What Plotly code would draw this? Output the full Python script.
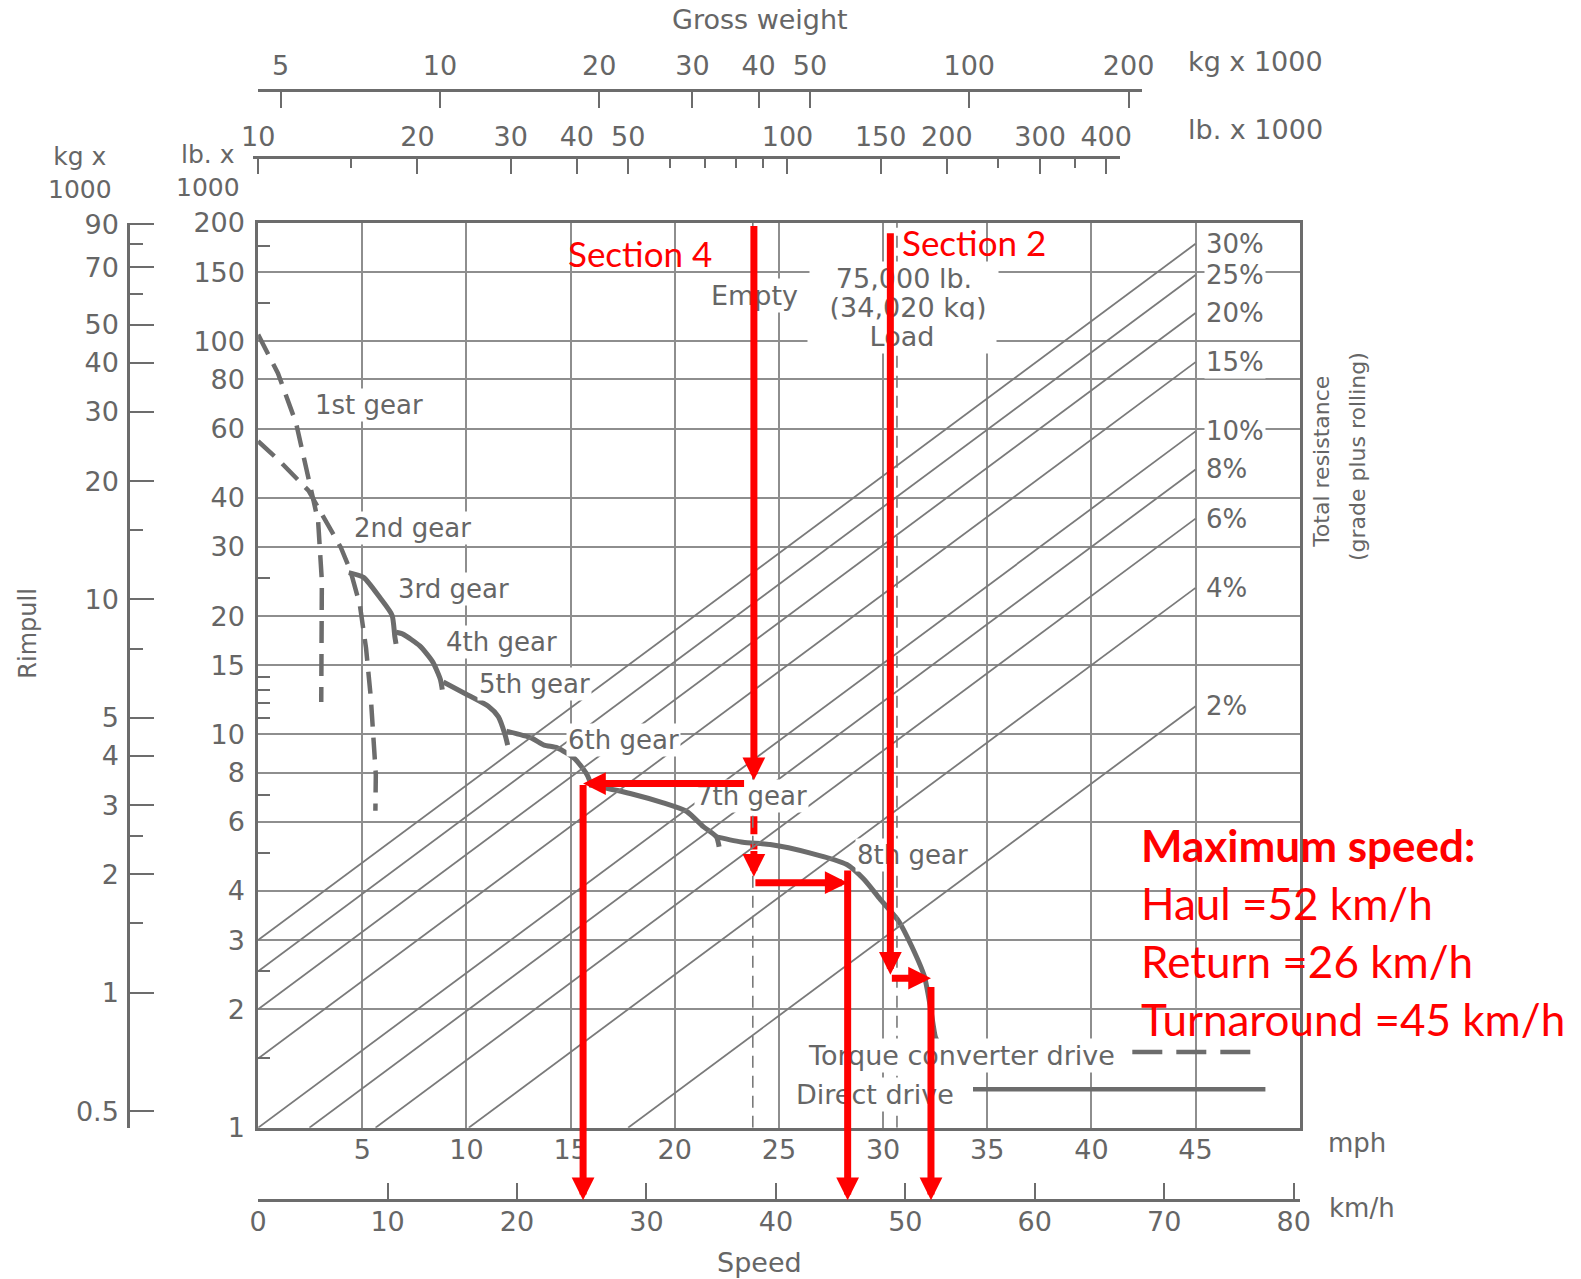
import numpy as np
import plotly.graph_objects as go

# ---------------- data ----------------
# rimpull in lb x 1000, speed in mph
gear1_mph = [0.0, 0.95, 1.82, 2.44, 2.88, 3.06, 3.04, 3.03]
gear1_rimpull = [104, 83, 62, 44, 34.9, 24.6, 16.6, 12.1]
gear2_mph = [0.0, 1.0, 2.42, 3.13, 3.97, 4.43, 4.88, 5.18, 5.41, 5.65, 5.63]
gear2_rimpull = [55.7, 49.8, 41.7, 35.7, 29.9, 26.1, 21.4, 16.6, 12.4, 7.9, 6.4]
gear3_mph = [4.35, 5.06, 5.87, 6.43, 6.56, 6.62]
gear3_rimpull = [25.8, 25.1, 22.2, 20.1, 17.8, 17.0]
gear4_mph = [6.62, 6.95, 7.76, 8.38, 8.75, 8.84]
gear4_rimpull = [18.2, 18.0, 16.8, 15.3, 13.8, 13.0]
gear5_mph = [8.89, 9.95, 11.05, 11.53, 11.85, 11.98]
gear5_rimpull = [13.6, 12.7, 11.8, 11.1, 10.0, 9.4]
gear6_mph = [11.92, 13.11, 13.73, 14.36, 15.18, 15.79, 16.02]
gear6_rimpull = [10.2, 9.8, 9.4, 9.25, 8.7, 7.9, 7.36]
gear7_mph = [15.94, 17.86, 19.45, 20.56, 21.37, 22.0, 22.13]
gear7_rimpull = [7.45, 7.08, 6.70, 6.38, 5.83, 5.49, 5.18]
gear8_mph = [22.0, 23.27, 24.58, 26.47, 28.26, 29.07, 29.83, 30.77, 31.38, 31.98, 32.29, 32.5, 32.58]
gear8_rimpull = [5.49, 5.32, 5.25, 5.0, 4.67, 4.29, 3.83, 3.34, 2.89, 2.43, 2.0, 1.71, 1.67]

grade_pct = [30, 25, 20, 15, 10, 8, 6, 4, 2]
grade_text = ["30%", "25%", "20%", "15%", "10%", "8%", "6%", "4%", "2%"]
weight_min = 10              # lb x 1000, left edge of gross-weight scale
grade_line_end_weight = 590  # lb x 1000, where the grade lines stop
empty_weight = 86            # lb x 1000
load_weight = 161            # empty + 75,000 lb load

lb_weight_major = [10, 20, 30, 40, 50, 100, 150, 200, 300, 400]
lb_weight_minor = [15, 60, 70, 80, 90, 250, 350]
kg_weight_major = [5, 10, 20, 30, 40, 50, 100, 200]
rim_lb_major = [1, 2, 3, 4, 6, 8, 10, 15, 20, 30, 40, 60, 80, 100, 150, 200]
rim_lb_minor = [1.5, 2.5, 5, 7, 11, 12, 13, 14, 25, 125, 175]
rim_kg_major = [0.5, 1, 2, 3, 4, 5, 10, 20, 30, 40, 50, 70, 90]
rim_kg_minor = [1.5, 2.5, 7.5, 15, 60, 80]
mph_ticks = [5, 10, 15, 20, 25, 30, 35, 40, 45]
kmh_ticks = [0, 10, 20, 30, 40, 50, 60, 70, 80]

# red analysis overlay (mph / lb x 1000)
section4_mph = 23.8
return_rimpull = 7.5
return_speed_mph = 15.6
turn_rimpull = 4.2
turn_speed_mph = 28.3
section2_mph = 30.35
haul_rimpull = 2.4
haul_speed_mph = 32.3

# ---------------- layout frame (reference pixel frame 1568x1268) ----------------
RW, RH = 1568.0, 1268.0
def fx(p): return p / RW
def fy(p): return 1 - p / RH

PX_L, PX_R, PY_T, PY_B = 256, 1289, 221, 1118
PY_KMH = 1190
LB_DEC = 525.0  # px per decade on the weight scales
MPH_MAX = 50
RIM_MAX = 200
ppd = (PY_B - PY_T) / np.log10(RIM_MAX)
kmh_head = -(PY_KMH - PY_B) / ppd  # log units below the plot

GRAY = '#6c6c6c'
GRID = '#8e8e8e'
TXT = '#666666'
FONT = 'DejaVu Sans'
RED = '#ff0000'

fig = go.Figure()

# grade lines (rimpull = weight * grade) on the gross weight overlay axis
for g in grade_pct:
    w = np.array([max(weight_min, 100.0 / g), grade_line_end_weight])
    fig.add_trace(go.Scatter(x=w, y=w * g / 100.0, xaxis='x3', yaxis='y', mode='lines',
                             line=dict(color='#7a7a7a', width=1.8), hoverinfo='skip', showlegend=False))
# empty / load vertical dashed lines
for wt in [empty_weight, load_weight]:
    fig.add_trace(go.Scatter(x=[wt, wt], y=[1, RIM_MAX], xaxis='x3', yaxis='y', mode='lines',
                             line=dict(color='#7a7a7a', width=1.6, dash='12px,8px'),
                             hoverinfo='skip', showlegend=False))

# gear curves
for xs, ys in [(gear1_mph, gear1_rimpull), (gear2_mph, gear2_rimpull)]:
    fig.add_trace(go.Scatter(x=xs, y=ys, mode='lines', line=dict(color=GRAY, width=4.5, dash='22px,11px'),
                             showlegend=False, hoverinfo='skip'))
for xs, ys in [(gear3_mph, gear3_rimpull), (gear4_mph, gear4_rimpull), (gear5_mph, gear5_rimpull),
               (gear6_mph, gear6_rimpull), (gear7_mph, gear7_rimpull), (gear8_mph, gear8_rimpull)]:
    fig.add_trace(go.Scatter(x=xs, y=ys, mode='lines', line=dict(color=GRAY, width=5, shape='spline', smoothing=0.6),
                             showlegend=False, hoverinfo='skip'))

# red dashed segment (turnaround)
fig.add_trace(go.Scatter(x=[section4_mph, section4_mph], y=[return_rimpull - 0.2, 5.1], mode='lines',
                         line=dict(color=RED, width=7, dash='18px,10px'), showlegend=False, hoverinfo='skip'))

# dummy traces for the free axes
for xa, ya in [('x2', 'y'), ('x4', 'y2'), ('x5', 'y2')]:
    fig.add_trace(go.Scatter(x=[1 if xa != 'x2' else 0], y=[1], xaxis=xa, yaxis=ya, mode='markers',
                             marker=dict(opacity=0), hoverinfo='skip', showlegend=False))

tickfont = dict(family=FONT, size=27, color=TXT)
w_max_log = 1 + (PX_R - PX_L) / LB_DEC

fig.update_layout(
    width=1581, height=1279, margin=dict(l=0, r=0, t=0, b=0, pad=0, autoexpand=False),
    paper_bgcolor='white', plot_bgcolor='rgba(0,0,0,0)', showlegend=False,
    xaxis=dict(domain=[fx(PX_L), fx(PX_R)], range=[0, MPH_MAX], tickmode='array', tickvals=mph_ticks,
               ticks='', showgrid=True, gridcolor=GRID, gridwidth=1.5, zeroline=False, automargin=False,
               showline=True, mirror=True, linecolor=GRAY, linewidth=2.5, tickfont=tickfont,
               ticklabelstandoff=-4),
    yaxis=dict(domain=[fy(PY_B), fy(PY_T)], type='log', range=[0, np.log10(RIM_MAX)], tickmode='array',
               tickvals=rim_lb_major, ticktext=[str(v) for v in rim_lb_major], ticks='inside', ticklen=0,
               showgrid=True, gridcolor=GRID, gridwidth=1.5, zeroline=False, automargin=False,
               showline=True, mirror=True, linecolor=GRAY, linewidth=2.5, tickfont=tickfont,
               ticklabelstandoff=5,
               minor=dict(tickmode='array', tickvals=rim_lb_minor, ticks='inside', ticklen=12,
                          tickwidth=2, tickcolor=GRAY, showgrid=False)),
    xaxis2=dict(overlaying='x', anchor='free', position=fy(PY_KMH), side='bottom', automargin=False,
                range=[0, MPH_MAX * 1.609344], tickmode='array', tickvals=kmh_ticks, ticks='inside',
                ticklen=17, tickwidth=2, tickcolor=GRAY, showgrid=False, zeroline=False,
                showline=True, linecolor=GRAY, linewidth=2.5, tickfont=tickfont, ticklabelstandoff=-3),
    xaxis3=dict(overlaying='x', type='log', range=[1, w_max_log], visible=False, automargin=False),
    xaxis4=dict(domain=[fx(251), fx(1111)], anchor='free', position=fy(156), side='top', type='log',
                range=[1 + (251 - PX_L) / LB_DEC, 1 + (1111 - PX_L) / LB_DEC], tickmode='array',
                tickvals=lb_weight_major, ticktext=[str(v) for v in lb_weight_major], ticks='inside',
                ticklen=15, tickwidth=2, tickcolor=GRAY, showgrid=False, zeroline=False, automargin=False,
                showline=True, linecolor=GRAY, linewidth=2.5, tickfont=tickfont,
                minor=dict(tickmode='array', tickvals=lb_weight_minor, ticks='inside', ticklen=9,
                           tickwidth=2, tickcolor=GRAY, showgrid=False)),
    xaxis5=dict(domain=[fx(PX_L), fx(1133)], anchor='free', position=fy(89), side='top', type='log',
                range=[np.log10(weight_min * 0.45359), np.log10(weight_min * 0.45359) + (1133 - PX_L) / LB_DEC],
                tickmode='array', tickvals=kg_weight_major, ticktext=[str(v) for v in kg_weight_major],
                ticks='inside', ticklen=16, tickwidth=2, tickcolor=GRAY, showgrid=False, zeroline=False,
                automargin=False, showline=True, linecolor=GRAY, linewidth=2.5, tickfont=tickfont,
                ticklabelstandoff=3),
    yaxis2=dict(domain=[fy(PY_B), fy(PY_T)], anchor='free', position=fx(127), side='left', type='log',
                range=[np.log10(0.45359), np.log10(RIM_MAX * 0.45359)], tickmode='array',
                tickvals=rim_kg_major, ticktext=[str(v) for v in rim_kg_major], ticks='inside',
                ticklen=24, tickwidth=2, tickcolor=GRAY, showgrid=False, zeroline=False, automargin=False,
                showline=True, linecolor=GRAY, linewidth=2.5, tickfont=tickfont, ticklabelstandoff=3,
                minor=dict(tickmode='array', tickvals=rim_kg_minor, ticks='inside', ticklen=13,
                           tickwidth=2, tickcolor=GRAY, showgrid=False)),
)

ann = []
def txt(x, y, s, size=27, xref='paper', yref='paper', xanchor='center', yanchor='middle',
        color=TXT, family=FONT, bg=None, angle=0, width=None, height=None, bold=False, **kw):
    d = dict(x=x, y=y, text=s, xref=xref, yref=yref, showarrow=False, xanchor=xanchor, yanchor=yanchor,
             font=dict(size=size, color=color, family=family, weight='bold' if bold else 'normal'),
             textangle=angle, borderpad=1)
    if bg:
        d['bgcolor'] = bg
    if width:
        d['width'] = width
    if height:
        d['height'] = height
    d.update(kw)
    ann.append(d)

# axis titles and labels (paper)
txt(fx(754), fy(19), 'Gross weight')
txt(fx(1176), fy(61), 'kg x 1000', xanchor='left')
txt(fx(1176), fy(128), 'lb. x 1000', xanchor='left')
txt(fx(79), fy(172), 'kg x<br>1000', size=25)
txt(fx(206), fy(170), 'lb. x<br>1000', size=25)
txt(fx(28), fy(628), 'Rimpull', size=24, angle=-90)
txt(fx(1311), fy(458), 'Total resistance', size=22, angle=-90)
txt(fx(1347), fy(453), '(grade plus rolling)', size=22, angle=-90)
txt(fx(1346), fy(1133), 'mph', size=26)
txt(fx(1351), fy(1198), 'km/h', size=26)
txt(fx(753), fy(1252), 'Speed', size=27)

# gear labels (data coords)
for s, xm, r in [('1st gear', 5.3, 68.8), ('2nd gear', 7.4, 33.6), ('3rd gear', 9.4, 23.5),
                 ('4th gear', 11.66, 17.2), ('5th gear', 13.27, 13.45), ('6th gear', 17.53, 9.66),
                 ('7th gear', 23.7, 6.99), ('8th gear', 31.4, 4.93)]:
    txt(xm, np.log10(r), s, size=26, xref='x', yref='y', bg='white')

txt(23.85, np.log10(131), 'Empty', size=27, xref='x', yref='y', bg='white')
txt(31.0, np.log10(144.5), '75,000 lb.', size=27, xref='x', yref='y', bg='white', width=186, height=31)
txt(31.2, np.log10(121.6), '(34,020 kg)', size=27, xref='x', yref='y', bg='white', width=186, height=31)
txt(30.9, np.log10(103), 'Load', size=27, xref='x', yref='y', bg='white', width=186, height=31)

# grade labels at ends of grade lines
for g, s in zip(grade_pct, grade_text):
    txt(np.log10(grade_line_end_weight), np.log10(grade_line_end_weight * g / 100.0), s, size=26,
        xref='x3', yref='y', xanchor='left', xshift=8, bg='white')

# legend
txt(fx(1108), fy(1046), 'Torque converter drive', size=27, xanchor='right', bg='white')
txt(fx(948), fy(1085), 'Direct drive', size=27, xanchor='right', bg='white')
shapes = [
    dict(type='line', xref='paper', yref='paper', x0=fx(1123), x1=fx(1252), y0=fy(1043), y1=fy(1043),
         line=dict(color=GRAY, width=4.5, dash='30px,14px')),
    dict(type='line', xref='paper', yref='paper', x0=fx(965), x1=fx(1255), y0=fy(1080), y1=fy(1080),
         line=dict(color=GRAY, width=4.5)),
]

# red texts
txt(fx(635), fy(251), 'Section 4', size=35, color=RED, family='Lato')
txt(fx(966), fy(240), 'Section 2', size=35, color=RED, family='Lato')
txt(fx(1130), fy(838), 'Maximum speed:', size=44, color=RED, family='Lato', xanchor='left', bold=True)
txt(fx(1130), fy(895), 'Haul =52 km/h', size=44, color=RED, family='Lato', xanchor='left')
txt(fx(1130), fy(953), 'Return =26 km/h', size=44, color=RED, family='Lato', xanchor='left')
txt(fx(1130), fy(1010), 'Turnaround =45 km/h', size=44, color=RED, family='Lato', xanchor='left')

# red arrows (data coords; y in log10 units)
def red_arrow(xt, yt_log, xh, yh_log):
    ann.append(dict(x=xh, y=yh_log, ax=xt, ay=yt_log, xref='x', yref='y', axref='x', ayref='y',
                    text='', showarrow=True, arrowhead=2, arrowsize=0.65, arrowwidth=7,
                    arrowcolor=RED, standoff=0, startstandoff=0))

L = np.log10
red_arrow(section4_mph, L(RIM_MAX) - 0.004, section4_mph, L(return_rimpull + 0.15))
red_arrow(section4_mph - 0.4, L(return_rimpull), return_speed_mph, L(return_rimpull))
red_arrow(return_speed_mph, L(return_rimpull), return_speed_mph, kmh_head)
red_arrow(section4_mph, L(5.1), section4_mph, L(turn_rimpull + 0.15))
red_arrow(section4_mph, L(turn_rimpull), turn_speed_mph, L(turn_rimpull))
red_arrow(turn_speed_mph, L(turn_rimpull + 0.35), turn_speed_mph, kmh_head)
red_arrow(section2_mph, L(190), section2_mph, L(haul_rimpull + 0.05))
red_arrow(section2_mph, L(haul_rimpull), haul_speed_mph, L(haul_rimpull))
red_arrow(haul_speed_mph, L(haul_rimpull - 0.1), haul_speed_mph, kmh_head)

fig.update_layout(annotations=ann, shapes=shapes)
fig.write_html("out.html")
